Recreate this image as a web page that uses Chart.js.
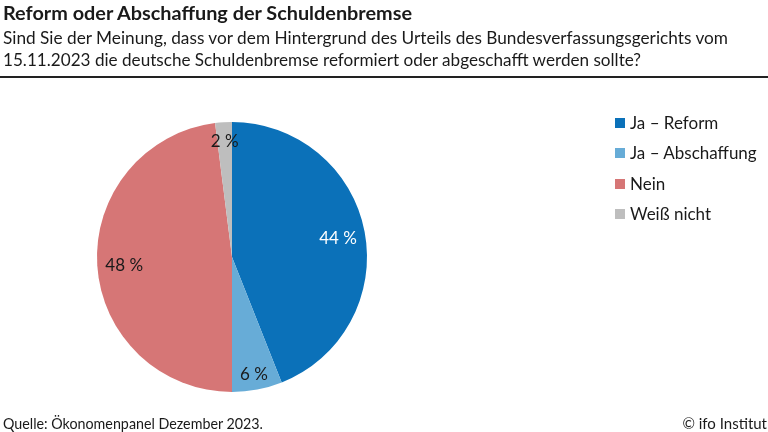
<!DOCTYPE html>
<html><head><meta charset="utf-8">
<script src="https://cdn.jsdelivr.net/npm/chart.js@4/dist/chart.umd.min.js"></script>
<style>
html,body{margin:0;padding:0;background:#fff;}
#wrap{position:relative;width:768px;height:432px;overflow:hidden;font-family:Lato,"Open Sans",sans-serif;color:#1a1a1a;}
canvas{position:absolute;left:0;top:0;}
.fit{position:absolute;left:3px;white-space:nowrap;transform-origin:0 0;}
#title{top:1.5px;font-size:19px;line-height:22px;font-weight:bold;}
#sub1{top:28.4px;font-size:17px;line-height:20px;}
#sub2{top:50px;font-size:17px;line-height:20px;}
#rule{position:absolute;left:0;top:76px;width:768px;height:2.4px;background:#222;}
#legend{position:absolute;left:615px;top:112px;}
.li{position:relative;height:30.3px;font-size:17px;line-height:22px;}
.sw{position:absolute;left:0;top:6px;width:10px;height:10px;}
.lt{position:absolute;left:15px;top:0;white-space:nowrap;}
#src{position:absolute;left:3px;top:414px;font-size:15px;line-height:18px;}
#cr{position:absolute;right:1px;top:414px;font-size:15px;line-height:18px;}
</style></head>
<body><div id="wrap">
<canvas id="c" width="768" height="432"></canvas>
<div id="title" class="fit" data-w="409">Reform oder Abschaffung der Schuldenbremse</div>
<div id="sub1" class="fit" data-w="725">Sind Sie der Meinung, dass vor dem Hintergrund des Urteils des Bundesverfassungsgerichts vom</div>
<div id="sub2" class="fit" data-w="638">15.11.2023 die deutsche Schuldenbremse reformiert oder abgeschafft werden sollte?</div>
<div id="rule"></div>
<div id="legend"></div>
<div id="src" class="fit" data-w="260">Quelle: Ökonomenpanel Dezember 2023.</div>
<div id="cr">© ifo Institut</div>
</div>
<script>
const categories = ["Ja – Reform", "Ja – Abschaffung", "Nein", "Weiß nicht"];
const values = [44, 6, 48, 2];
const colors = ["#0b71b9", "#67acd7", "#d67676", "#bebebe"];
const labelColors = ["#ffffff", "#1a1a1a", "#1a1a1a", "#1a1a1a"];

document.querySelectorAll('.fit').forEach(el => {
  const w = el.getBoundingClientRect().width;
  el.style.transform = 'scaleX(' + (parseFloat(el.dataset.w) / w) + ')';
});

const lg = document.getElementById('legend');
categories.forEach((c, i) => {
  const d = document.createElement('div'); d.className = 'li';
  d.innerHTML = '<span class="sw" style="background:' + colors[i] + '"></span><span class="lt">' + c + '</span>';
  lg.appendChild(d);
});

const labelPlugin = {
  id: 'sliceLabels',
  afterDatasetsDraw(chart) {
    const ctx = chart.ctx;
    const meta = chart.getDatasetMeta(0);
    ctx.save();
    ctx.font = '17px Lato, "Open Sans", sans-serif';
    ctx.textAlign = 'center';
    ctx.textBaseline = 'middle';
    meta.data.forEach((arc, i) => {
      const p = arc.getProps(['x','y','startAngle','endAngle','outerRadius'], true);
      const mid = (p.startAngle + p.endAngle) / 2;
      const r = p.outerRadius * (values[i] < 10 ? 0.87 : 0.8);
      ctx.fillStyle = labelColors[i];
      ctx.fillText(values[i] + ' %', p.x + Math.cos(mid) * r, p.y + Math.sin(mid) * r + 2);
    });
    ctx.restore();
  }
};

new Chart(document.getElementById('c'), {
  type: 'pie',
  data: { labels: categories, datasets: [{ data: values, backgroundColor: colors, borderWidth: 0 }] },
  options: {
    responsive: false, animation: false,
    layout: { padding: { left: 97, right: 401, top: 122, bottom: 40 } },
    plugins: { legend: { display: false }, tooltip: { enabled: false } }
  },
  plugins: [labelPlugin]
});
</script>
</body></html>
